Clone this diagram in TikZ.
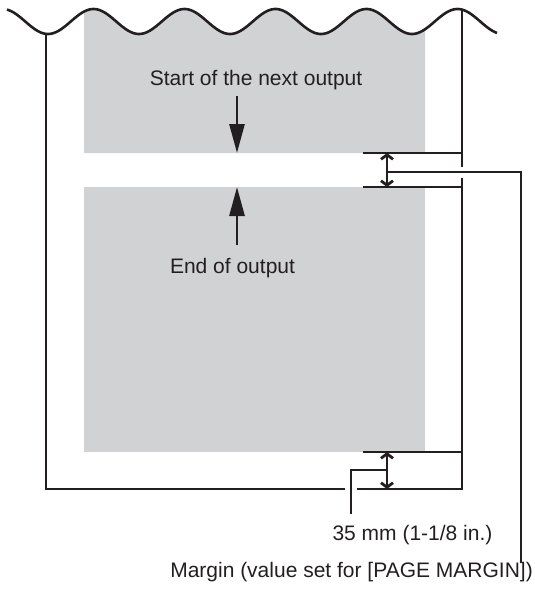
\documentclass[tikz,border=0pt]{standalone}
\usepackage{fontspec}
\setmainfont{Liberation Sans}
\usetikzlibrary{arrows.meta}
\definecolor{ink}{HTML}{231F20}
\definecolor{paper}{HTML}{D1D2D4}
\begin{document}
\begin{tikzpicture}[x=1pt,y=-1pt,
  outline/.style={draw=ink,line width=2.7pt},
  thin/.style={draw=ink,line width=1.5pt},
  bigarrow/.style={draw=ink,line width=2.8pt,-{Triangle[length=29pt,width=15pt,fill=ink]}},
  dimarrow/.style={draw=ink,line width=2.8pt,{Straight Barb[length=4.5pt,width=12pt]}-{Straight Barb[length=4.5pt,width=12pt]}},
  lbl/.style={font=\fontsize{21pt}{25pt}\selectfont,text=ink,inner sep=0pt,anchor=base}]
\useasboundingbox (0,0) rectangle (535,598);
% gray printed areas
\fill[paper] plot[domain=84:425,samples=120] (\x,{21.5-12.5*cos((\x-2.5)/91*360)}) -- (425,153) -- (84,153) -- cycle;
\fill[paper] (84,187) rectangle (425,452);
% wave
\draw[ink,line width=2.6pt] plot[domain=7:497,samples=250,smooth] (\x,{21.5-12.5*cos((\x-2.5)/91*360)});
% paper outline
\coordinate (lt) at (46,34);
\coordinate (lb) at (46,489);
\coordinate (g1) at (345,489);
\coordinate (g2) at (357,489);
\coordinate (rb) at (462,489);
\coordinate (r1) at (462,178);
\coordinate (r2) at (462,167);
\coordinate (rt) at (462,9.3);
\draw[outline] (lt) -- (lb) -- (g1);
\draw[outline,line join=miter] (g2) -- (rb) -- (r1);
\draw[outline] (r2) -- (rt);
% margin lines
\coordinate (m1a) at (363,153); \coordinate (m1b) at (462,153);
\coordinate (m2a) at (363,187); \coordinate (m2b) at (462,187);
\coordinate (m3a) at (363,452); \coordinate (m3b) at (462,452);
\draw[thin] (m1a) -- (m1b);
\draw[thin] (m2a) -- (m2b);
\draw[thin] (m3a) -- (m3b);
% dimension arrows
\coordinate (d1t) at (387,153); \coordinate (d1b) at (387,187);
\coordinate (d2t) at (387,452); \coordinate (d2b) at (387,489);
\draw[dimarrow] (d1t) -- (d1b);
\draw[dimarrow] (d2t) -- (d2b);
% big arrows
\coordinate (a1s) at (237,96); \coordinate (a1e) at (237,153);
\coordinate (a2s) at (237,245); \coordinate (a2e) at (237,187);
\draw[bigarrow] (a1s) -- (a1e);
\draw[bigarrow] (a2s) -- (a2e);
% labels
\node[lbl] (next) at (256,85) {Start of the next output};
\node[lbl] (end) at (232.5,273) {End of output};
\node[lbl] (mm) at (412.5,540) {35 mm (1-1/8 in.)};
\node[lbl,anchor=base east] (margin) at (533,577) {Margin (value set for [PAGE MARGIN])};
% leaders
\coordinate (c1) at (387,172);
\coordinate (c1r) at (521,172);
\coordinate (c1d) at (521,563);
\draw[thin,line width=1.3pt] (c1) -- (c1r) -- (c1d);
\coordinate (c2) at (387,470);
\coordinate (c2l) at (351,470);
\coordinate (c2d) at (351,514);
\draw[thin,line width=1.3pt] (c2) -- (c2l) -- (c2d);
\end{tikzpicture}
\end{document}
